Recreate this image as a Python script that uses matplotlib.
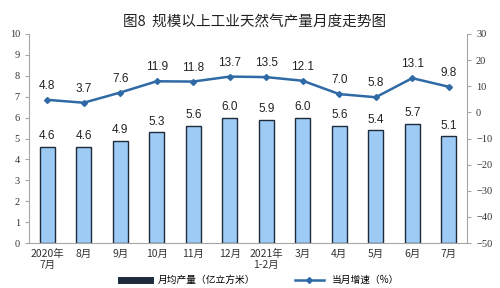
import matplotlib
matplotlib.use("Agg")
import matplotlib.pyplot as plt
from matplotlib.lines import Line2D

plt.rcParams['font.family'] = ['Noto Sans CJK SC', 'DejaVu Sans']

months = ['2020年\n7月', '8月', '9月', '10月', '11月', '12月', '2021年\n1-2月',
          '3月', '4月', '5月', '6月', '7月']
output = [4.6, 4.6, 4.9, 5.3, 5.6, 6.0, 5.9, 6.0, 5.6, 5.4, 5.7, 5.1]
growth = [4.8, 3.7, 7.6, 11.9, 11.8, 13.7, 13.5, 12.1, 7.0, 5.8, 13.1, 9.8]

bar_color = '#9DCBF5'
edge_color = '#1E2B3C'
line_color = '#2F6AA6'
axis_color = '#A6A6A6'

fig = plt.figure(figsize=(5, 2.88), dpi=100)
ax = fig.add_axes([0.058, 0.156, 0.876, 0.726])
ax2 = ax.twinx()

x = range(len(months))
ax.bar(x, output, width=0.41, color=bar_color, edgecolor=edge_color, linewidth=1.0, zorder=2)
for i, v in enumerate(output):
    ax.text(i, v + 0.22, f'{v:.1f}', ha='center', va='bottom', fontsize=8.5,
            family='Liberation Sans', color='#222222')

ax2.plot(x, growth, color=line_color, linewidth=1.8, marker='D', markersize=3, zorder=3)
for i, v in enumerate(growth):
    ax2.text(i, v + 3.0, f'{v:.1f}', ha='center', va='bottom', fontsize=8.5,
             family='Liberation Sans', color='#222222')

ax.set_xlim(-0.5, len(months) - 0.5)
ax.set_ylim(0, 10)
ax.set_yticks(range(0, 11))
ax2.set_ylim(-50, 30)
ax2.set_yticks(range(-50, 31, 10))

ax.set_xticks(list(x))
ax.set_xticklabels(months, fontsize=7.5, linespacing=1.1)
for a in (ax, ax2):
    for s in a.spines.values():
        s.set_visible(False)
    a.tick_params(axis='y', labelsize=7.5, colors='#333333', length=3, width=0.8)
    for lab in a.get_yticklabels():
        lab.set_family('Liberation Serif')
ax.spines['left'].set_visible(True)
ax.spines['left'].set_color(axis_color)
ax.spines['bottom'].set_visible(True)
ax.spines['bottom'].set_color(axis_color)
ax2.spines['right'].set_visible(True)
ax2.spines['right'].set_color(axis_color)
ax.tick_params(axis='y', color=axis_color)
ax2.tick_params(axis='y', color=axis_color)
ax.tick_params(axis='x', length=0, pad=4, colors='#333333')

fig.text(0.51, 0.925, '图8  规模以上工业天然气产量月度走势图', ha='center', va='center',
         fontsize=10.5, color='#222222')

handles = [Line2D([0], [0], color=edge_color, linewidth=5),
           Line2D([0], [0], color=line_color, linewidth=1.8, marker='D', markersize=3)]
fig.legend(handles, ['月均产量（亿立方米）', '当月增速（%）'], loc='center',
           bbox_to_anchor=(0.52, 0.028), ncol=2, frameon=False, fontsize=7,
           handlelength=3, columnspacing=4, borderpad=0.1)

fig.savefig('out.png', dpi=100)
